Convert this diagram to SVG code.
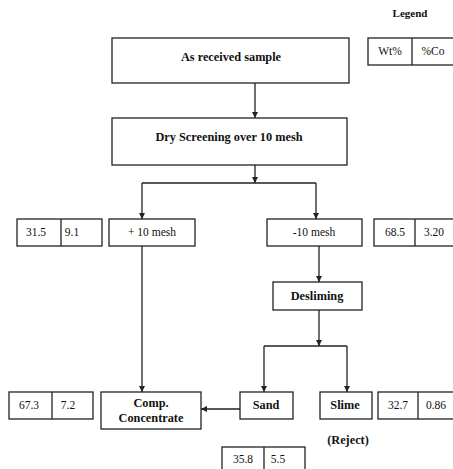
<svg xmlns="http://www.w3.org/2000/svg" width="453" height="469" viewBox="0 0 453 469">
<defs>
<marker id="ah" viewBox="0 0 10 10" refX="10" refY="5" markerWidth="6" markerHeight="6" markerUnits="userSpaceOnUse" orient="auto">
<path d="M0,0 L10,5 L0,10 z" fill="#222"/>
</marker>
<style>
rect{fill:#fff;stroke:#222;stroke-width:1.3}
.d{stroke:#222;stroke-width:1.3}
text{font-family:"Liberation Serif","Times New Roman",serif;font-size:11.5px;fill:#111;text-anchor:middle}
.b{font-weight:bold;font-size:12.3px}
.s{font-weight:bold;font-size:11px}
#conn line,#conn path{stroke:#222;stroke-width:1.3;fill:none}
</style>
</defs>
<rect x="0" y="0" width="453" height="469" style="stroke:none;fill:#fff"/>
<g id="legend">
<text class="s" x="410" y="17">Legend</text>
<rect x="368" y="38" width="90" height="27"/>
<line class="d" x1="412" y1="38" x2="412" y2="65"/>
<text x="390" y="55">Wt%</text>
<text x="433" y="55">%Co</text>
</g>
<g id="conn">
<line x1="255" y1="83" x2="255" y2="118" marker-end="url(#ah)"/>
<line x1="255" y1="165" x2="255" y2="183" marker-end="url(#ah)"/>
<line x1="142" y1="183" x2="316" y2="183"/>
<line x1="142" y1="183" x2="142" y2="219" marker-end="url(#ah)"/>
<line x1="316" y1="183" x2="316" y2="219" marker-end="url(#ah)"/>
<line x1="319" y1="246" x2="319" y2="282" marker-end="url(#ah)"/>
<line x1="319" y1="310" x2="319" y2="346" marker-end="url(#ah)"/>
<line x1="264" y1="346" x2="347" y2="346"/>
<line x1="264" y1="346" x2="264" y2="392" marker-end="url(#ah)"/>
<line x1="347" y1="346" x2="347" y2="392" marker-end="url(#ah)"/>
<line x1="142" y1="246" x2="142" y2="392" marker-end="url(#ah)"/>
<line x1="240" y1="409" x2="201" y2="409" marker-end="url(#ah)"/>
</g>
<g id="n-sample">
<rect x="112" y="38" width="237" height="45"/>
<text class="b" x="231" y="61">As received sample</text>
</g>
<g id="n-dry">
<rect x="112" y="118" width="235" height="47"/>
<text class="b" x="229" y="141">Dry Screening over 10 mesh</text>
</g>
<g id="n-plus10">
<rect x="109" y="219" width="86" height="27"/>
<text x="152" y="236">+ 10  mesh</text>
</g>
<g id="t-plus10">
<rect x="17" y="219" width="85" height="27"/>
<line class="d" x1="61" y1="219" x2="61" y2="246"/>
<text x="36" y="236">31.5</text>
<text x="72" y="236">9.1</text>
</g>
<g id="n-minus10">
<rect x="267" y="219" width="95" height="27"/>
<text x="314" y="236">-10 mesh</text>
</g>
<g id="t-minus10">
<rect x="374" y="219" width="85" height="27"/>
<line class="d" x1="415" y1="219" x2="415" y2="246"/>
<text x="395" y="236">68.5</text>
<text x="434" y="236">3.20</text>
</g>
<g id="n-desliming">
<rect x="273" y="282" width="89" height="28"/>
<text class="b" x="317" y="300">Desliming</text>
</g>
<g id="n-sand">
<rect x="240" y="392" width="53" height="27"/>
<text class="b" x="266" y="409">Sand</text>
</g>
<g id="n-slime">
<rect x="320" y="392" width="52" height="27"/>
<text class="b" x="345" y="409">Slime</text>
</g>
<g id="t-slime">
<rect x="378" y="392" width="85" height="27"/>
<line class="d" x1="418" y1="392" x2="418" y2="419"/>
<text x="398" y="409">32.7</text>
<text x="436" y="409">0.86</text>
</g>
<text class="b" x="348" y="444">(Reject)</text>
<g id="t-sand">
<rect x="222" y="447" width="83" height="30"/>
<line class="d" x1="264" y1="447" x2="264" y2="477"/>
<text x="243" y="463">35.8</text>
<text x="278" y="463">5.5</text>
</g>
<g id="n-comp">
<rect x="101" y="392" width="100" height="37"/>
<text class="b" x="151" y="407">Comp.</text>
<text class="b" x="151" y="422">Concentrate</text>
</g>
<g id="t-comp">
<rect x="9" y="392" width="84" height="27"/>
<line class="d" x1="52" y1="392" x2="52" y2="419"/>
<text x="29" y="409">67.3</text>
<text x="68" y="409">7.2</text>
</g>
</svg>
